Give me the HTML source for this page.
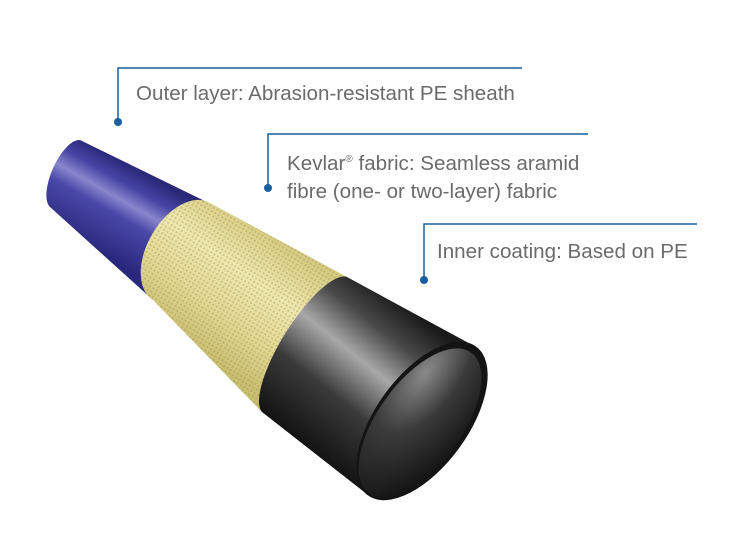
<!DOCTYPE html>
<html><head><meta charset="utf-8"><style>
html,body{margin:0;padding:0;background:#fff;}
body{width:750px;height:546px;overflow:hidden;position:relative;font-family:"Liberation Sans",sans-serif;}
.t{position:absolute;color:#6b6b6b;font-size:20.6px;line-height:28px;white-space:nowrap;}
</style></head><body>
<svg width="750" height="546" style="position:absolute;left:0;top:0">
<defs>
<linearGradient id="gB" gradientUnits="userSpaceOnUse" x1="140" y1="171" x2="95" y2="250">
<stop offset="0" stop-color="#2a2878"/><stop offset="0.2" stop-color="#4644a4"/><stop offset="0.38" stop-color="#8886cc"/><stop offset="0.55" stop-color="#4a48a8"/><stop offset="1" stop-color="#2a287c"/></linearGradient>
<linearGradient id="gY" gradientUnits="userSpaceOnUse" x1="280" y1="240" x2="200" y2="350">
<stop offset="0" stop-color="#d6cc82"/><stop offset="0.35" stop-color="#efe8b0"/><stop offset="0.7" stop-color="#e2d894"/><stop offset="1" stop-color="#cbbf72"/></linearGradient>
<linearGradient id="gK" gradientUnits="userSpaceOnUse" x1="420" y1="317" x2="310" y2="455">
<stop offset="0" stop-color="#1a1a1a"/><stop offset="0.2" stop-color="#4a4a4a"/><stop offset="0.4" stop-color="#a8a8a8"/><stop offset="0.65" stop-color="#3a3a3a"/><stop offset="1" stop-color="#101010"/></linearGradient>
<radialGradient id="gI" cx="0.25" cy="0.8" r="0.9">
<stop offset="0" stop-color="#8a8a8a"/><stop offset="0.45" stop-color="#3a3a3a"/><stop offset="1" stop-color="#141414"/></radialGradient>
<pattern id="pY" width="4" height="4" patternUnits="userSpaceOnUse" patternTransform="rotate(30)">
<rect x="0" y="0" width="2" height="2" fill="#8a7e3a" opacity="0.3"/></pattern>
</defs>
<!-- blue -->
<path d="M80,140 A37,15 114 0 0 50,207 L153,300 L217,207 Z" fill="url(#gB)"/>
<!-- yellow -->
<path d="M210,203 A56,34 120 0 0 153,300 L262,412 L347,277 Z" fill="url(#gY)"/>
<path d="M210,203 A56,34 120 0 0 153,300 L262,412 L347,277 Z" fill="url(#pY)"/>
<!-- black -->
<path d="M347,277 A80,24 122 0 0 262,412 L368,495 L476,347 Z" fill="url(#gK)"/>
<ellipse cx="422" cy="421" rx="92" ry="46" transform="rotate(126 422 421)" fill="#141414"/>
<ellipse cx="420" cy="423" rx="87" ry="42" transform="rotate(126 420 423)" fill="url(#gI)"/>
<!-- callouts -->
<g stroke="#1a5f9e" stroke-width="1.5" fill="none">
<polyline points="522,68 118,68 118,122"/>
<polyline points="588,134 268,134 268,188"/>
<polyline points="697,224 424,224 424,280"/>
</g>
<g fill="#1a5f9e"><circle cx="118" cy="122" r="4"/><circle cx="268" cy="188" r="4"/><circle cx="424" cy="280" r="4"/></g>
</svg>
<div class="t" style="left:136px;top:80px">Outer layer: Abrasion-resistant PE sheath</div>
<div class="t" style="left:287px;top:146px">Kevlar<sup style="font-size:10px">®</sup> fabric: Seamless aramid<br>fibre (one- or two-layer) fabric</div>
<div class="t" style="left:437px;top:238px">Inner coating: Based on PE</div>
</body></html>
